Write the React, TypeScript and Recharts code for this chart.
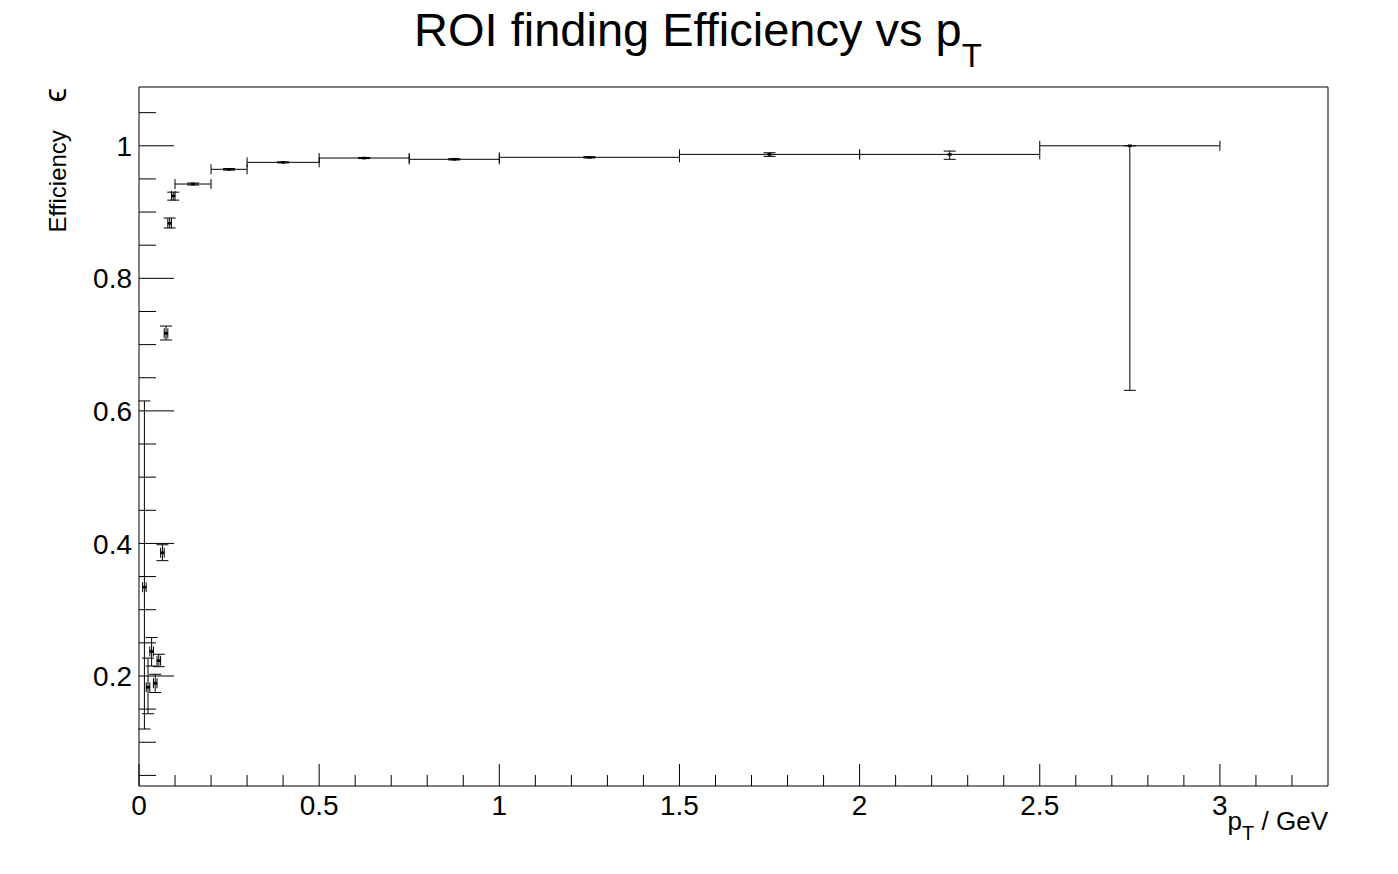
import React from 'react';
import { ComposedChart, Scatter, XAxis, YAxis, ErrorBar, ReferenceLine } from 'recharts';

// Bin centres (pT / GeV)
const pTCenter = [0.015, 0.025, 0.035, 0.045, 0.055, 0.065, 0.075, 0.085, 0.095, 0.15, 0.25, 0.4, 0.625, 0.875, 1.25, 1.75, 2.25, 2.75];
// Half bin widths
const pTHalfWidth = [0.005, 0.005, 0.005, 0.005, 0.005, 0.005, 0.005, 0.005, 0.005, 0.05, 0.05, 0.1, 0.125, 0.125, 0.25, 0.25, 0.25, 0.25];
// Efficiency values
const efficiency = [0.334, 0.183, 0.237, 0.189, 0.223, 0.386, 0.717, 0.883, 0.9245, 0.9423, 0.9645, 0.975, 0.9815, 0.9796, 0.9826, 0.987, 0.987, 1.0];
// Lower and upper errors
const errLow = [0.214, 0.040, 0.022, 0.014, 0.009, 0.012, 0.010, 0.007, 0.0065, 0.0015, 0.0012, 0.0008, 0.0008, 0.001, 0.001, 0.003, 0.0074, 0.369];
const errHigh = [0.281, 0.044, 0.021, 0.0136, 0.0098, 0.012, 0.011, 0.008, 0.0055, 0.0015, 0.0012, 0.0008, 0.0008, 0.001, 0.001, 0.0025, 0.005, 0.0];

const xTicks = [0, 0.1, 0.2, 0.3, 0.4, 0.5, 0.6, 0.7, 0.8, 0.9, 1, 1.1, 1.2, 1.3, 1.4, 1.5, 1.6, 1.7, 1.8, 1.9, 2, 2.1, 2.2, 2.3, 2.4, 2.5, 2.6, 2.7, 2.8, 2.9, 3, 3.1, 3.2];
const xMajor = [0, 0.5, 1, 1.5, 2, 2.5, 3];
const yTicks = [0.05, 0.1, 0.15, 0.2, 0.25, 0.3, 0.35, 0.4, 0.45, 0.5, 0.55, 0.6, 0.65, 0.7, 0.75, 0.8, 0.85, 0.9, 0.95, 1.0, 1.05];
const yMajor = [0.2, 0.4, 0.6, 0.8, 1.0];

const X_MIN = 0;
const X_MAX = 3.3;
const Y_MIN = 0.034;
const Y_MAX = 1.0887;

const rows = pTCenter.map((x, i) => ({
  x,
  y: efficiency[i],
  xErr: [pTHalfWidth[i], pTHalfWidth[i]],
  yErr: [errLow[i], errHigh[i]],
}));

const FONT = '"Liberation Sans", Arial, Helvetica, sans-serif';

const isMajor = (list: number[], v: number) => list.some((m) => Math.abs(m - v) < 1e-9);

const XTick = (props: any) => {
  const { x, y, payload } = props;
  const major = isMajor(xMajor, payload.value);
  return (
    <g>
      <line x1={x} x2={x} y1={y} y2={y - (major ? 22 : 11)} stroke="#000" strokeWidth={1} />
      {major && (
        <text x={x} y={y + 29} textAnchor="middle" fontSize={28} fontFamily={FONT} fill="#000">
          {String(payload.value)}
        </text>
      )}
    </g>
  );
};

const YTick = (props: any) => {
  const { x, y, payload } = props;
  const major = isMajor(yMajor, payload.value);
  return (
    <g>
      <line x1={x} x2={x + (major ? 35 : 17)} y1={y} y2={y} stroke="#000" strokeWidth={1} />
      {major && (
        <text x={x - 7} y={y} dy="0.36em" textAnchor="end" fontSize={28} fontFamily={FONT} fill="#000">
          {String(payload.value)}
        </text>
      )}
    </g>
  );
};

const Marker = (props: any) => {
  const { cx, cy } = props;
  if (cx == null || cy == null) return null;
  return <rect x={cx - 2} y={cy - 1.3} width={4} height={2.6} fill="#000" />;
};

export default function App() {
  return (
    <div style={{ position: 'absolute', left: 0, top: 0, width: 1398, height: 874, background: '#fff' }}>
      <ComposedChart
        width={1398}
        height={874}
        data={rows}
        margin={{ top: 87, right: 70, bottom: 48, left: 79 }}
      >
        <XAxis
          dataKey="x"
          type="number"
          domain={[X_MIN, X_MAX]}
          allowDataOverflow
          ticks={xTicks}
          interval={0}
          tick={<XTick />}
          tickLine={false}
          tickSize={0}
          tickMargin={0}
          height={40}
          axisLine={{ stroke: '#000', strokeWidth: 1 }}
        />
        <YAxis
          dataKey="y"
          type="number"
          domain={[Y_MIN, Y_MAX]}
          allowDataOverflow
          ticks={yTicks}
          interval={0}
          tick={<YTick />}
          tickLine={false}
          tickSize={0}
          tickMargin={0}
          width={60}
          axisLine={{ stroke: '#000', strokeWidth: 1 }}
        />
        <ReferenceLine x={X_MAX} stroke="#000" strokeWidth={1} ifOverflow="visible" />
        <ReferenceLine y={Y_MAX} stroke="#000" strokeWidth={1} ifOverflow="visible" />
        <Scatter data={rows} dataKey="y" isAnimationActive={false} shape={<Marker />} fill="#000">
          <ErrorBar dataKey="xErr" direction="x" width={5} stroke="#000" strokeWidth={1} isAnimationActive={false} />
          <ErrorBar dataKey="yErr" direction="y" width={6} stroke="#000" strokeWidth={1} isAnimationActive={false} />
        </Scatter>
      </ComposedChart>
      <svg
        width={1398}
        height={874}
        style={{ position: 'absolute', left: 0, top: 0, pointerEvents: 'none' }}
      >
        <text x={698} y={46} textAnchor="middle" fontSize={47} fontFamily={FONT} fill="#000">
          <tspan>ROI finding Efficiency vs p</tspan>
          <tspan dy={21} fontSize={33}>T</tspan>
        </text>
        <text
          transform="translate(66,88) rotate(-90)"
          x={0}
          y={0}
          textAnchor="end"
          fontSize={24}
          fontFamily={FONT}
          fill="#000"
        >
          <tspan>Efficiency</tspan>
          <tspan dx={28} fontSize={32}>ϵ</tspan>
        </text>
        <text x={1328} y={830} textAnchor="end" fontSize={26} fontFamily={FONT} fill="#000">
          <tspan>p</tspan>
          <tspan dy={10} fontSize={20}>T</tspan>
          <tspan dy={-10}> / GeV</tspan>
        </text>
      </svg>
    </div>
  );
}
